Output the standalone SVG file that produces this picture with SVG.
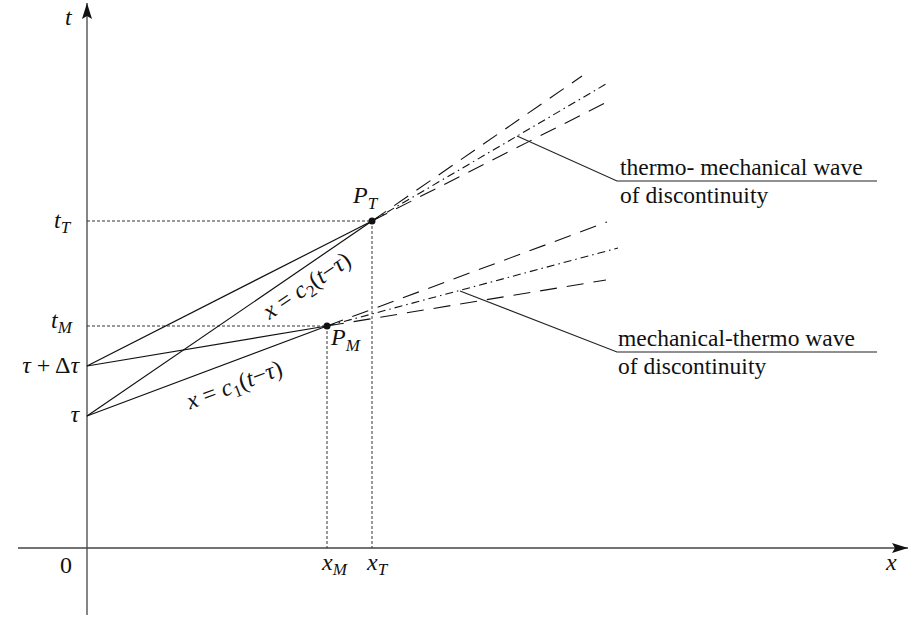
<svg xmlns="http://www.w3.org/2000/svg" width="909" height="617" viewBox="0 0 909 617">
<style>
.ax{stroke:#444;stroke-width:1.3;fill:none}
.ln{stroke:#111;stroke-width:1.2;fill:none}
.dot{stroke:#333;stroke-width:1;stroke-dasharray:3 2;fill:none}
.dsh{stroke:#111;stroke-width:1.1;stroke-dasharray:17 10;fill:none}
.dd{stroke:#111;stroke-width:1.1;stroke-dasharray:8 4 1.5 4;fill:none}
.ld{stroke:#222;stroke-width:1.1;fill:none}
text{font-family:"Liberation Serif","DejaVu Serif",serif;fill:#111}
.m{font-style:italic;font-size:24px}
.n{font-style:normal}
.s{font-style:italic;font-size:17px}
.sn{font-style:normal;font-size:17px}
.lab{font-size:23.5px}
</style>
<defs>
<marker id="arr" viewBox="0 0 16 10" refX="16" refY="5" markerWidth="16" markerHeight="10" markerUnits="userSpaceOnUse" orient="auto">
<path d="M0,0 L16,5 L0,10 L3,5 Z" fill="#111"/>
</marker>
</defs>
<g id="axes">
<line class="ax" x1="87" y1="615" x2="87" y2="3" marker-end="url(#arr)"/>
<line class="ax" x1="18" y1="548" x2="908" y2="548" marker-end="url(#arr)"/>
<text class="m" x="65" y="25">t</text>
<text class="m" x="886" y="570">x</text>
<text class="m n" x="60" y="573">0</text>
</g>
<g id="guides">
<line class="dot" x1="87" y1="221" x2="372" y2="221"/>
<line class="dot" x1="87" y1="326" x2="327" y2="326"/>
<line class="dot" x1="372" y1="221" x2="372" y2="548"/>
<line class="dot" x1="327" y1="326" x2="327" y2="548"/>
</g>
<g id="connectors">
<line class="ln" x1="87" y1="366" x2="372" y2="221"/>
<line class="ln" x1="87" y1="366" x2="327" y2="326"/>
<line class="ln" x1="87" y1="416" x2="372" y2="221"/>
<line class="ln" x1="87" y1="416" x2="327" y2="326"/>
<line class="dsh" x1="372" y1="221" x2="582" y2="76"/>
<line class="dd" x1="372" y1="221" x2="606" y2="84"/>
<line class="dsh" x1="372" y1="221" x2="605" y2="103"/>
<line class="dsh" x1="327" y1="326" x2="607" y2="222"/>
<line class="dd" x1="327" y1="326" x2="618" y2="248"/>
<line class="dsh" x1="327" y1="326" x2="606" y2="280"/>
<polyline class="ld" points="517,136 617,181 877,181"/>
<polyline class="ld" points="460,291 617,352 877,352"/>
</g>
<g id="PT">
<circle cx="372" cy="221" r="3.5" fill="#111"/>
<text class="m" x="353" y="203">P<tspan class="s" dy="6">T</tspan></text>
</g>
<g id="PM">
<circle cx="327" cy="326" r="3.5" fill="#111"/>
<text class="m" x="331" y="345">P<tspan class="s" dy="6">M</tspan></text>
</g>
<g id="tlabels">
<text class="m" x="54" y="228">t<tspan class="s" dy="5">T</tspan></text>
<text class="m" x="51" y="328">t<tspan class="s" dy="5">M</tspan></text>
<text class="m" x="79" y="373" text-anchor="end">τ <tspan class="n">+ Δ</tspan>τ</text>
<text class="m" x="79" y="422" text-anchor="end">τ</text>
</g>
<g id="xlabels">
<text class="m" x="322" y="570">x<tspan class="s" dy="5">M</tspan></text>
<text class="m" x="367" y="570">x<tspan class="s" dy="5">T</tspan></text>
</g>
<g id="eqlabels">
<text class="m" text-anchor="middle" transform="translate(311,292) rotate(-34)">x <tspan class="n">= </tspan>c<tspan class="sn" dy="5">2</tspan><tspan class="n" dy="-5">(</tspan>t<tspan class="n">−</tspan>τ<tspan class="n">)</tspan></text>
<text class="m" text-anchor="middle" transform="translate(237,392) rotate(-20.6)">x <tspan class="n">= </tspan>c<tspan class="sn" dy="5">1</tspan><tspan class="n" dy="-5">(</tspan>t<tspan class="n">−</tspan>τ<tspan class="n">)</tspan></text>
</g>
<g id="wave1">
<text class="lab" x="620" y="175">thermo- mechanical wave</text>
<text class="lab" x="620" y="203">of discontinuity</text>
</g>
<g id="wave2">
<text class="lab" x="618" y="346">mechanical-thermo wave</text>
<text class="lab" x="618" y="374">of discontinuity</text>
</g>
</svg>
